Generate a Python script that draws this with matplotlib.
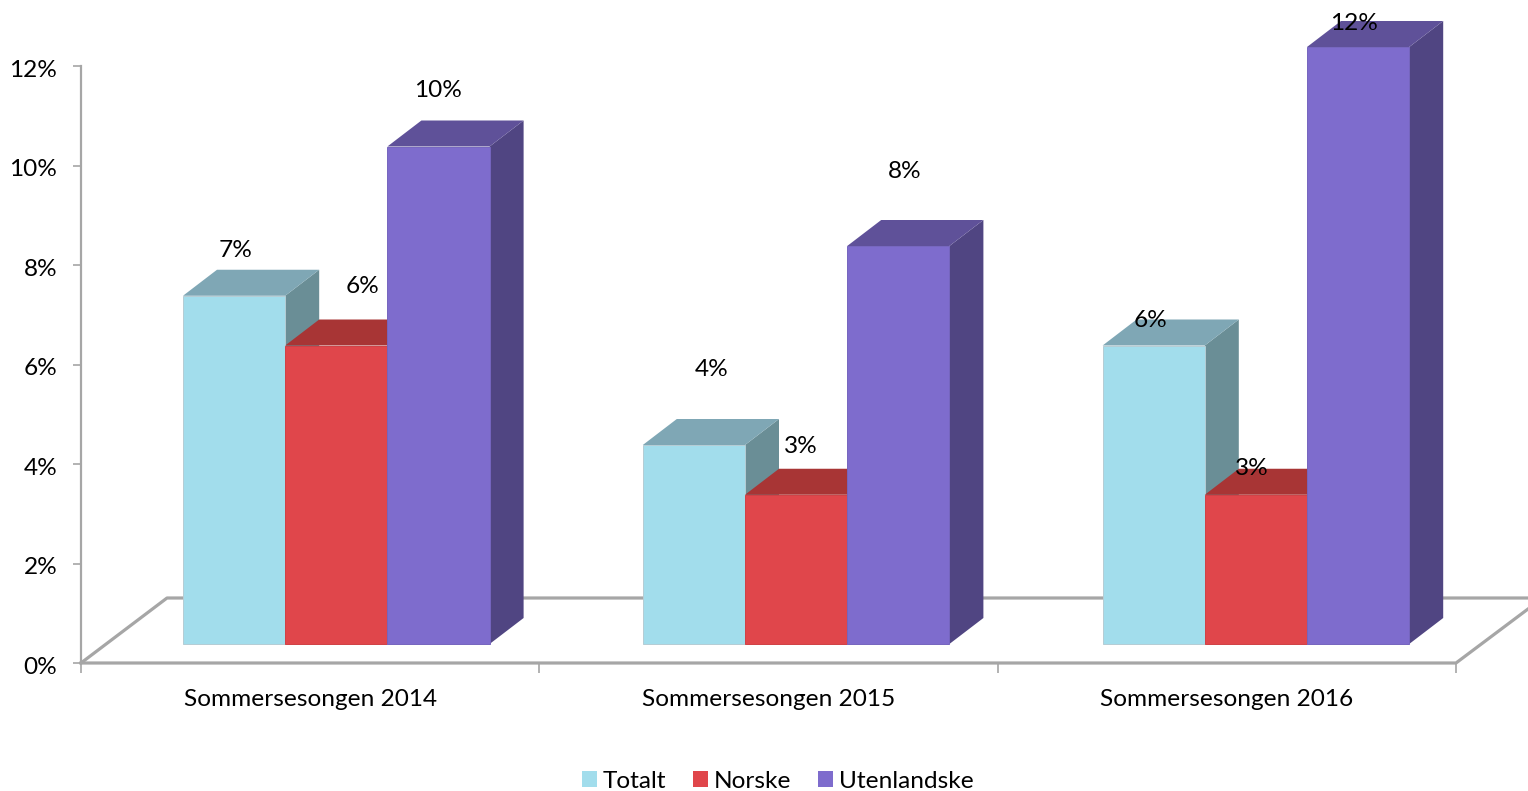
import matplotlib
matplotlib.use('Agg')
import matplotlib.pyplot as plt
from matplotlib.patches import Patch, Polygon, Rectangle
from matplotlib.transforms import ScaledTranslation
import numpy as np

plt.rcParams['font.family'] = ['Lato', 'DejaVu Sans']

categories = ['Sommersesongen 2014', 'Sommersesongen 2015', 'Sommersesongen 2016']
series_names = ['Totalt', 'Norske', 'Utenlandske']
totalt = [7, 4, 6]
norske = [6, 3, 3]
utenlandske = [10, 8, 12]
y_ticks = [0, 2, 4, 6, 8, 10, 12]

front_colors = ['#A2DDEC', '#E0464B', '#7E6CCD']
edge_colors = ['#B5CCD4', '#D04045', '#7565BE']
top_colors = ['#7FA7B5', '#A83535', '#5F5199']
side_colors = ['#6A8E96', '#8E2C2E', '#504582']

# label offsets in pixels from the middle of the bar's top edge (hand placed)
label_offsets = [
    [(1, 45), (26, 59), (-1, 56)],
    [(18, 76), (5, 48), (6, 75)],
    [(-3, 25), (-4, 26), (-4, 24)],
]

W, H = 1528, 791
FONT = 17.6
fig = plt.figure(figsize=(W / 100, H / 100), dpi=100)
ax = fig.add_axes([81 / W, 1 - 663 / H, (1456 - 81) / W, (663 - 66) / H])
ax.set_xlim(0, 3)
ax.set_ylim(0, 12)

px_x = 3 / (1456 - 81)
px_y = 12 / (663 - 66)

bar_w = 102.2 * px_x
start = (183 - 81) * px_x
group_step = 459.8 * px_x
base = (663 - 644) * px_y
dx = 34 * px_x
dy = 26 * px_y

# floor of the 3d box
floor_dx = 86 * px_x
floor_dy = 65 * px_y
gray = '#A6A6A6'
ax.plot([0, floor_dx, 3.2], [0, floor_dy, floor_dy], color=gray, lw=2.3, clip_on=False, zorder=1)
ax.plot([0, 3, 3 + 72 * px_x], [0, 0, 54 * px_y], color=gray, lw=2.3, clip_on=False, zorder=1)

values = [totalt, norske, utenlandske]
z = 3
for g in range(len(categories)):
    for s in range(len(series_names)):
        x0 = start + g * group_step + s * bar_w
        x1 = x0 + bar_w
        top = base + values[s][g]
        front = Rectangle((x0, base), bar_w, values[s][g], facecolor=front_colors[s],
                          edgecolor=edge_colors[s], lw=0.7, clip_on=False, zorder=z)
        top_face = Polygon([(x0, top), (x1, top), (x1 + dx, top + dy), (x0 + dx, top + dy)],
                           facecolor=top_colors[s], edgecolor='none', clip_on=False, zorder=z)
        side = Polygon([(x1, base), (x1 + dx, base + dy), (x1 + dx, top + dy), (x1, top)],
                       facecolor=side_colors[s], edgecolor='none', clip_on=False, zorder=z)
        ax.add_patch(side)
        ax.add_patch(top_face)
        ax.add_patch(front)
        z += 1

for g in range(len(categories)):
    for s in range(len(series_names)):
        xc = start + g * group_step + (s + 0.5) * bar_w
        ax.annotate(f'{values[s][g]}%', (xc, base + values[s][g]), xytext=label_offsets[g][s],
                    textcoords='offset pixels', ha='center', va='center', fontsize=FONT,
                    color='black', zorder=50, annotation_clip=False)

for side_name in ['top', 'right', 'bottom']:
    ax.spines[side_name].set_visible(False)
ax.spines['left'].set_color(gray)
ax.spines['left'].set_linewidth(1.6)

ax.set_yticks(y_ticks)
ax.set_yticklabels([f'{v}%' for v in y_ticks], fontsize=FONT)
ax.tick_params(axis='y', color=gray, width=1.2, length=6, pad=11)
# nudge the y labels down a little
nudge = ScaledTranslation(0, -1.5 / 72, fig.dpi_scale_trans)
for lab in ax.get_yticklabels():
    lab.set_transform(lab.get_transform() + nudge)

ax.set_xticks(np.arange(len(categories) + 1))
ax.set_xticklabels([])
ax.tick_params(axis='x', which='major', color=gray, width=1.2, length=7)
ax.set_xticks(np.arange(len(categories)) + 0.5, minor=True)
ax.set_xticklabels(categories, minor=True, fontsize=FONT)
ax.tick_params(axis='x', which='minor', length=0, pad=18.7)

handles = [Patch(facecolor=c, edgecolor='none') for c in front_colors]
fig.legend(handles, series_names, loc='center', bbox_to_anchor=(778 / W, 1 - 781 / H), ncol=3,
           frameon=False, fontsize=FONT, handlelength=0.61, handleheight=0.61,
           handletextpad=0.24, columnspacing=1.1, borderpad=0)

fig.savefig('out.png', dpi=100, facecolor='white')
